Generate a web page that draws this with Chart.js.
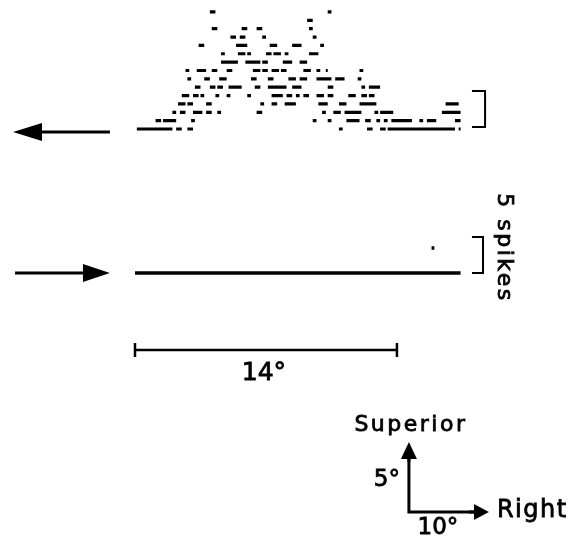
<!DOCTYPE html>
<html>
<head>
<meta charset="utf-8">
<script src="https://cdn.jsdelivr.net/npm/chart.js@4.4.1/dist/chart.umd.min.js"></script>
<style>
  html, body { margin: 0; padding: 0; background: #fff; }
  canvas { display: block; }
</style>
</head>
<body>
<canvas id="raster" width="576" height="539"></canvas>
<script>
// each row holds dashes as [start, end] in degrees along the sweep
const leftwardRows = [
  [[0.1, 2.0], [2.2, 2.5], [2.8, 3.1], [10.9, 11.1], [12.4, 12.7], [13.1, 13.4], [13.5, 17.1], [17.3, 17.4]],
  [[1.1, 1.4], [1.5, 2.2], [3.0, 3.2], [9.5, 9.7], [10.3, 10.5], [11.3, 12.0], [12.3, 12.6], [12.9, 13.1], [13.3, 13.5], [13.7, 14.8], [15.2, 15.4], [15.6, 16.1], [17.1, 17.4]],
  [[2.0, 2.2], [2.4, 2.7], [3.1, 3.6], [3.8, 4.1], [4.4, 4.6], [6.5, 6.8], [10.0, 10.2], [10.6, 11.0], [11.2, 12.1], [12.8, 13.0], [13.1, 13.8], [16.4, 17.4]],
  [[2.3, 2.7], [2.8, 3.1], [3.8, 4.1], [6.7, 6.9], [7.3, 7.6], [8.0, 8.6], [9.8, 10.3], [10.9, 11.3], [12.0, 12.9], [16.6, 17.3]],
  [[2.5, 2.9], [3.1, 3.4], [3.5, 3.7], [4.3, 4.5], [4.9, 5.1], [6.0, 6.2], [7.3, 7.9], [8.1, 8.4], [8.6, 8.8], [9.0, 9.3], [9.7, 10.1], [10.3, 10.6], [11.4, 11.8], [12.1, 12.4], [12.5, 12.8]],
  [[3.2, 3.5], [4.0, 4.3], [4.4, 4.7], [5.0, 5.7], [6.4, 6.7], [7.1, 8.1], [8.4, 8.9], [10.3, 10.6], [12.1, 12.3], [12.5, 13.1]],
  [[2.8, 3.0], [3.7, 4.0], [4.5, 4.9], [6.2, 6.5], [7.1, 7.4], [8.2, 8.6], [8.8, 9.2], [9.7, 10.5], [10.7, 11.2], [11.9, 12.1]],
  [[2.7, 2.9], [3.3, 3.8], [4.1, 4.4], [4.9, 5.2], [6.3, 6.7], [6.8, 7.1], [7.3, 7.7], [7.8, 8.1], [9.0, 9.4], [9.7, 9.9], [10.2, 10.3], [12.0, 12.2]],
  [[4.6, 5.5], [5.9, 6.7], [6.8, 7.1], [7.9, 8.4], [8.8, 9.2]],
  [[4.6, 4.8], [5.5, 5.9], [6.0, 6.2], [7.0, 7.3], [7.4, 7.8], [8.0, 8.2], [9.3, 9.8]],
  [[3.4, 3.7], [5.4, 6.0], [7.2, 7.6], [8.4, 8.9], [9.9, 10.1]],
  [[5.1, 5.4], [5.6, 5.9], [6.8, 7.0], [9.5, 9.7]],
  [[4.1, 4.4], [5.7, 6.0], [6.5, 6.8], [9.3, 9.5]],
  [[9.2, 9.5]],
  [[4.0, 4.3], [10.3, 10.5]]
];
const rightwardRows = [
  [[0.0, 17.4]],
  [],
  [],
  [[15.85, 16.0]]
];
const scaleBarDeg = 14;
const compassLabels = ["Superior", "Right", "5°", "10°"];
const spikeLabel = "5 spikes";

// layout in data units (x: degrees, y: rows above the upper baseline)
const lowerBase = -17.22;
const xMin = -7.215, xMax = 23.57;
const yMin = -49.04, yMax = 15.43;

function toSegments(rows, base) {
  const pts = [];
  rows.forEach((row, i) => {
    row.forEach(([a, b]) => {
      pts.push({ x: a, y: base + i }, { x: b, y: base + i }, { x: b, y: null });
    });
  });
  return pts;
}

function arrow(ctx, x1, y1, x2, y2, len, half, width) {
  const ang = Math.atan2(y2 - y1, x2 - x1);
  const bx = x2 - Math.cos(ang) * len;
  const by = y2 - Math.sin(ang) * len;
  ctx.lineWidth = width;
  ctx.beginPath();
  ctx.moveTo(x1, y1);
  ctx.lineTo(bx, by);
  ctx.stroke();
  ctx.beginPath();
  ctx.moveTo(x2, y2);
  ctx.lineTo(bx + Math.sin(ang) * half, by - Math.cos(ang) * half);
  ctx.lineTo(bx - Math.sin(ang) * half, by + Math.cos(ang) * half);
  ctx.closePath();
  ctx.fill();
}

function label(ctx, text, x, y) {
  ctx.lineWidth = 0.8;
  ctx.fillText(text, x, y);
  ctx.strokeText(text, x, y);
}

const decorations = {
  id: "decorations",
  afterDraw(chart) {
    const ctx = chart.ctx;
    const X = (v) => chart.scales.x.getPixelForValue(v);
    const Y = (v) => chart.scales.y.getPixelForValue(v);
    ctx.save();
    ctx.strokeStyle = "#000";
    ctx.fillStyle = "#000";
    ctx.lineCap = "butt";

    // sweep direction arrows
    arrow(ctx, X(-1.34), Y(-0.36), X(-6.52), Y(-0.36), 29, 9, 3);
    arrow(ctx, X(-6.41), Y(lowerBase), X(-1.34), Y(lowerBase), 27, 9, 3);

    // spike brackets
    ctx.lineWidth = 2;
    const bracket = (x0, x1, yb, yt) => {
      ctx.beginPath();
      ctx.moveTo(X(x0), Y(yt));
      ctx.lineTo(X(x1), Y(yt));
      ctx.lineTo(X(x1), Y(yb));
      ctx.lineTo(X(x0), Y(yb));
      ctx.stroke();
    };
    bracket(18.01, 18.71, 0.24, 4.55);
    bracket(18.01, 18.6, lowerBase, lowerBase + 4.3);

    // rotated spike label
    ctx.save();
    ctx.translate(X(19.7), Y(-14.23));
    ctx.rotate(Math.PI / 2);
    ctx.font = "22px 'DejaVu Sans'";
    ctx.letterSpacing = "2.5px";
    ctx.textAlign = "center";
    ctx.textBaseline = "middle";
    label(ctx, spikeLabel, 0, 0);
    ctx.restore();

    // scale bar
    const sy = Y(-26.44);
    ctx.lineWidth = 2.5;
    ctx.beginPath();
    ctx.moveTo(X(0), sy);
    ctx.lineTo(X(scaleBarDeg), sy);
    ctx.moveTo(X(0), sy - 7);
    ctx.lineTo(X(0), sy + 7);
    ctx.moveTo(X(scaleBarDeg), sy - 7);
    ctx.lineTo(X(scaleBarDeg), sy + 7);
    ctx.stroke();
    ctx.font = "25px 'DejaVu Sans'";
    ctx.letterSpacing = "0px";
    ctx.textAlign = "center";
    ctx.textBaseline = "middle";
    label(ctx, scaleBarDeg + "°", X(scaleBarDeg / 2) - 2, Y(-29.3));

    // orientation compass
    const ox = X(14.64), oy = Y(-45.81);
    ctx.lineWidth = 3;
    ctx.beginPath();
    ctx.moveTo(ox, oy - 56);
    ctx.lineTo(ox, oy);
    ctx.lineTo(ox + 66, oy);
    ctx.stroke();
    arrow(ctx, ox, oy - 50, ox, oy - 70, 17, 8, 3);
    arrow(ctx, ox + 60, oy, ox + 80, oy, 15, 8, 3);

    ctx.font = "22px 'DejaVu Sans'";
    ctx.letterSpacing = "2.5px";
    ctx.textAlign = "center";
    label(ctx, compassLabels[0], ox + 2, oy - 87);
    ctx.font = "24px 'DejaVu Sans'";
    ctx.letterSpacing = "1.5px";
    ctx.textAlign = "left";
    label(ctx, compassLabels[1], ox + 88, oy - 1);
    ctx.textAlign = "center";
    ctx.font = "23px 'DejaVu Sans'";
    ctx.letterSpacing = "0px";
    label(ctx, compassLabels[2], ox - 22, oy - 32);
    label(ctx, compassLabels[3], ox + 29, oy + 16);
    ctx.restore();
  }
};

new Chart(document.getElementById("raster"), {
  type: "line",
  data: {
    datasets: [
      {
        data: toSegments(leftwardRows, 0),
        borderColor: "#000",
        borderWidth: 3.2,
        borderCapStyle: "butt",
        pointRadius: 0,
        spanGaps: false,
        tension: 0,
      },
      {
        data: toSegments(rightwardRows, lowerBase),
        borderColor: "#000",
        borderWidth: 3.5,
        borderCapStyle: "butt",
        pointRadius: 0,
        spanGaps: false,
        tension: 0,
      },
    ],
  },
  options: {
    responsive: false,
    animation: false,
    layout: { padding: 0 },
    plugins: {
      legend: { display: false },
      tooltip: { enabled: false },
    },
    scales: {
      x: { type: "linear", min: xMin, max: xMax, display: false },
      y: { type: "linear", min: yMin, max: yMax, display: false },
    },
  },
  plugins: [decorations],
});
</script>
</body>
</html>
